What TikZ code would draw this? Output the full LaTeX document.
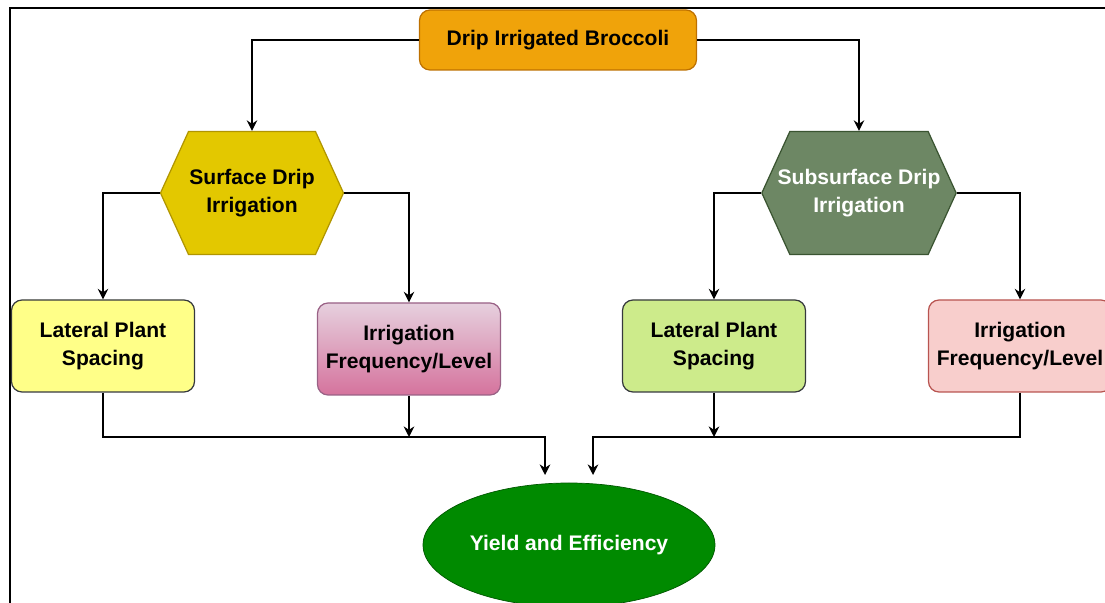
\documentclass[tikz,border=0pt]{standalone}
\usepackage{fontspec}
\setmainfont{Liberation Sans}
\usetikzlibrary{shapes.symbols,shapes.geometric,arrows.meta}

\definecolor{topfill}{HTML}{F0A30A}
\definecolor{topdraw}{HTML}{BD7000}
\definecolor{surffill}{HTML}{E3C800}
\definecolor{surfdraw}{HTML}{B09500}
\definecolor{subfill}{HTML}{6D8764}
\definecolor{subdraw}{HTML}{3A5431}
\definecolor{latfill}{HTML}{FFFF88}
\definecolor{latgreen}{HTML}{CDEB8B}
\definecolor{boxdraw}{HTML}{36393D}
\definecolor{pinktop}{HTML}{E6D0DE}
\definecolor{pinkbot}{HTML}{D5739D}
\definecolor{pinkdraw}{HTML}{996185}
\definecolor{rosefill}{HTML}{F8CECC}
\definecolor{rosedraw}{HTML}{B85450}
\definecolor{yieldfill}{HTML}{008A00}
\definecolor{yielddraw}{HTML}{005700}

\begin{document}
\begin{tikzpicture}[x=0.2mm, y=-0.2mm,
    every node/.append style={font=\fontsize{12}{15.5}\selectfont\bfseries},
    box/.style={draw, rectangle, rounded corners=6pt, minimum width=3.66cm, minimum height=1.84cm, align=center, line width=0.7pt},
    hexa/.style={draw, signal, signal to=west and east, signal pointer angle=131, minimum width=3.66cm, minimum height=2.46cm, align=center, inner sep=0pt, line width=0.7pt},
    arr/.style={-{Stealth[length=6pt, width=6pt]}, line width=0.8pt}]

        \clip (0, 0) rectangle (1105, 603);

        % Cornice
        \draw[line width=1pt] (10, 620) -- (10, 8) -- (1120, 8);

        % Nodo principale
        \node[box, fill=topfill, draw=topdraw, minimum width=5.54cm, minimum height=1.2cm] at (558, 40) (broccoli) {Drip Irrigated Broccoli};

        % Esagoni
        \node[hexa, fill=surffill, draw=surfdraw] at (252, 193) (surface) {Surface Drip\\Irrigation};
        \node[hexa, fill=subfill, draw=subdraw, text=white, inner xsep=-7pt] at (859, 193) (subsurface) {Subsurface Drip\\Irrigation};

        % Rettangoli
        \node[box, fill=latfill, draw=boxdraw] at (103, 346) (latsurf) {Lateral Plant\\Spacing};
        \node[box, top color=pinktop, bottom color=pinkbot, draw=pinkdraw] at (409, 349) (irrsurf) {Irrigation\\Frequency/Level};
        \node[box, fill=latgreen, draw=boxdraw] at (714, 346) (latsub) {Lateral Plant\\Spacing};
        \node[box, fill=rosefill, draw=rosedraw] at (1020, 346) (irrsub) {Irrigation\\Frequency/Level};

        % Output
        \node[draw=yielddraw, fill=yieldfill, ellipse, text=white, minimum width=5.84cm, minimum height=2.48cm, inner sep=0pt] at (569, 545) (yield) {Yield and Efficiency};

        % Punti di raccolta
        \coordinate (joinl) at (545, 437);
        \coordinate (joinr) at (593, 437);
        \coordinate (endl) at (545, 475);
        \coordinate (endr) at (593, 475);

        % Frecce
        \draw[arr] (broccoli.west) -| (surface.north);
        \draw[arr] (broccoli.east) -| (subsurface.north);
        \draw[arr] (surface.west) -| (latsurf.north);
        \draw[arr] (surface.east) -| (irrsurf.north);
        \draw[arr] (subsurface.west) -| (latsub.north);
        \draw[arr] (subsurface.east) -| (irrsub.north);
        \draw[arr] (latsurf.south) |- (joinl) -- (endl);
        \draw[arr] (irrsurf.south) -- (irrsurf.south |- joinl);
        \draw[arr] (irrsub.south) |- (joinr) -- (endr);
        \draw[arr] (latsub.south) -- (latsub.south |- joinr);
    \end{tikzpicture}
\end{document}
